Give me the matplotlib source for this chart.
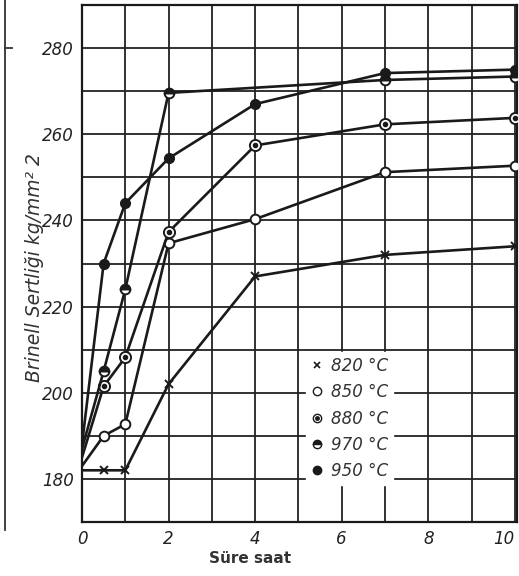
import matplotlib
matplotlib.use("Agg")
import matplotlib.pyplot as plt
from matplotlib.lines import Line2D
from matplotlib.legend_handler import HandlerTuple

# ---- data ----
x_820 = [0, 0.5, 1, 2, 4, 7, 10]
y_820 = [182, 182, 182, 202, 227, 232, 234]

x_850 = [0, 0.5, 1, 2, 4, 7, 10]
y_850 = [183, 190, 192.7, 234.7, 240.3, 251.2, 252.7]

x_880 = [0, 0.5, 1, 2, 4, 7, 10]
y_880 = [185, 201.5, 208.2, 237.3, 257.4, 262.3, 263.8]

x_970 = [0, 0.5, 1, 2, 7, 10]
y_970 = [187, 205, 224, 269.6, 272.6, 273.4]

x_950 = [0, 0.5, 1, 2, 4, 7, 10]
y_950 = [188, 230, 244, 254.4, 267, 274.2, 275]

labels = ["820 °C", "850 °C", "880 °C", "970 °C", "950 °C"]
xticks = [0, 2, 4, 6, 8, 10]
yticks = [180, 200, 220, 240, 260, 280]
xlabel = "Süre saat"
ylabel = "Brinell Sertliği kg/mm² 2"

fig = plt.figure(figsize=(5.19, 5.76), dpi=100)
ax = fig.add_axes([82/519, 1-522/576, 435/519, 517/576])
ax.set_xlim(0, 10.05)
ax.set_ylim(170, 290)

# grid
for gx in range(0, 11):
    ax.axvline(gx, color="#222222", lw=1.3, zorder=1)
for gy in range(170, 291, 10):
    ax.axhline(gy, color="#222222", lw=1.3, zorder=1)

lw = 1.9
me = slice(1, None)
ax.plot(x_820, y_820, color="#1a1a1a", lw=lw, marker="x", ms=6, mew=1.4,
        markevery=me, zorder=3)
ax.plot(x_850, y_850, color="#1a1a1a", lw=lw, marker="o", ms=7, mfc="white",
        mec="#1a1a1a", mew=1.4, markevery=me, zorder=3)
ax.plot(x_880, y_880, color="#1a1a1a", lw=lw, marker="o", ms=8, mfc="white",
        mec="#1a1a1a", mew=1.4, markevery=me, zorder=3)
ax.plot(x_880, y_880, ls="none", marker="o", ms=3, color="#1a1a1a",
        markevery=me, zorder=4)
ax.plot(x_970, y_970, color="#1a1a1a", lw=lw, marker="o", ms=7, mfc="#1a1a1a",
        mfcalt="white", fillstyle="top", mec="#1a1a1a", mew=1.4,
        markevery=me, zorder=3)
ax.plot(x_950, y_950, color="#1a1a1a", lw=lw, marker="o", ms=7, mfc="#1a1a1a",
        mec="#1a1a1a", markevery=me, zorder=3)

ax.set_xticks(xticks)
ax.set_yticks(yticks)
xtl = ax.set_xticklabels([str(t) for t in xticks], fontstyle="italic", fontsize=12, color="#222222")
xtl[-1].set_horizontalalignment("right")
ax.set_yticklabels([str(t) for t in yticks], fontstyle="italic", fontsize=12, color="#222222")
ax.tick_params(length=0, pad=6)
for s in ax.spines.values():
    s.set_linewidth(1.6)
    s.set_color("#1a1a1a")

ax.set_xlabel(xlabel, fontsize=11, fontweight="bold", color="#333333")
ax.xaxis.set_label_coords(0.386, -0.056)
ax.set_ylabel(ylabel, fontsize=13.5, fontstyle="italic", color="#333333")
ax.yaxis.set_label_coords(-0.087, 0.493)

# legend markers without lines
lh820 = Line2D([], [], ls="none", marker="x", ms=5, mew=1.2, color="#1a1a1a")
lh850 = Line2D([], [], ls="none", marker="o", ms=6, mfc="white", mec="#1a1a1a", mew=1.0)
lh880a = Line2D([], [], ls="none", marker="o", ms=6, mfc="white", mec="#1a1a1a", mew=1.0)
lh880b = Line2D([], [], ls="none", marker="o", ms=2.5, color="#1a1a1a")
lh970 = Line2D([], [], ls="none", marker="o", ms=6, mfc="#1a1a1a", mfcalt="white",
               fillstyle="top", mec="#1a1a1a", mew=1.0)
lh950 = Line2D([], [], ls="none", marker="o", ms=6, color="#1a1a1a")
leg = ax.legend([lh820, lh850, (lh880a, lh880b), lh970, lh950], labels,
                handler_map={tuple: HandlerTuple(ndivide=1)},
                loc="upper left", bbox_to_anchor=(0.495, 0.345),
                frameon=True, framealpha=1, edgecolor="white", facecolor="white",
                fancybox=False, handlelength=0.8, handletextpad=0.4,
                labelspacing=0.5, borderpad=0.3,
                prop={"style": "italic", "size": 12})
for t in leg.get_texts():
    t.set_color("#333333")
leg.set_zorder(5)

# fragment of neighbouring chart at the left edge
fig.add_artist(Line2D([5/519, 5/519], [1-0/576, 1-530/576], color="#333333", lw=1.3))
fig.add_artist(Line2D([5/519, 12/519], [1-48/576, 1-48/576], color="#333333", lw=1.3))

fig.savefig("out.png", dpi=100, facecolor="white")
